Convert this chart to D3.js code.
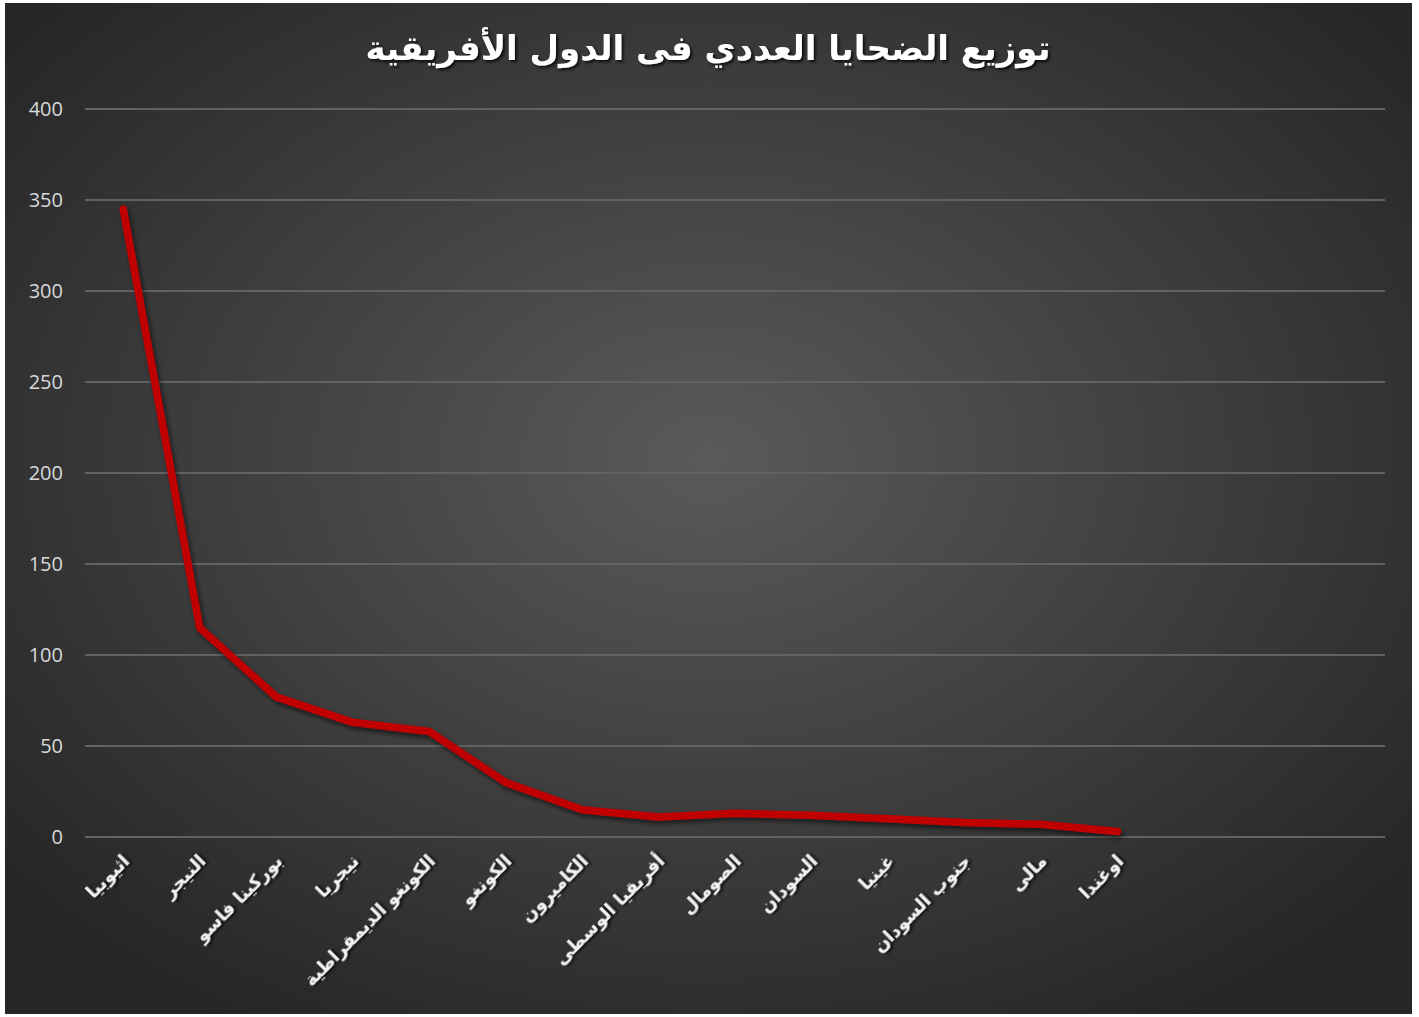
<!DOCTYPE html>
<html><head><meta charset="utf-8">
<script src="https://cdn.jsdelivr.net/npm/d3@7/dist/d3.min.js"></script>
<style>html,body{margin:0;padding:0;background:#fff;}svg{display:block;}</style>
</head><body>
<script>
const title = "توزيع الضحايا العددي فى الدول الأفريقية";
const categories = ["اثيوبيا","النيجر","بوركينا فاسو","نيجريا","الكونغو الديمقراطية","الكونغو","الكاميرون","أفريقيا الوسطى","الصومال","السودان","غينيا","جنوب السودان","مالى","اوغندا","","",""];
const values = [345,115,77,63,58,30,15,11,13,12,10,8,7,3];
const yTicks = [0,50,100,150,200,250,300,350,400];

const W = 1419, H = 1017;
const svg = d3.select("body").append("svg").attr("width", W).attr("height", H);
const defs = svg.append("defs");
const rg = defs.append("radialGradient").attr("id","bg").attr("cx","50%").attr("cy","45%").attr("r","65%");
rg.append("stop").attr("offset","0%").attr("stop-color","#5a5a5a");
rg.append("stop").attr("offset","100%").attr("stop-color","#262626");
const f = defs.append("filter").attr("id","sh").attr("x","-10%").attr("y","-10%").attr("width","120%").attr("height","120%");
f.append("feDropShadow").attr("dx",2).attr("dy",3).attr("stdDeviation",2.5).attr("flood-color","#000").attr("flood-opacity",0.6);
const ft = defs.append("filter").attr("id","tsh").attr("x","-10%").attr("y","-30%").attr("width","120%").attr("height","160%");
ft.append("feDropShadow").attr("dx",2).attr("dy",2).attr("stdDeviation",1.5).attr("flood-color","#000").attr("flood-opacity",0.8);

svg.append("rect").attr("x",5).attr("y",3).attr("width",1407).attr("height",1011).attr("fill","url(#bg)");

const m = {left:85, right:1385, top:109, bottom:837};
const x = d3.scaleBand().domain(categories.map((c,i)=>i)).range([m.left, m.right]);
const y = d3.scaleLinear().domain([0,400]).range([m.bottom, m.top]);

// gridlines
svg.append("g").selectAll("line").data(yTicks).join("line")
  .attr("x1", m.left).attr("x2", m.right)
  .attr("y1", d=>y(d)).attr("y2", d=>y(d))
  .attr("stroke", "#626262").attr("stroke-width", 2);

// y labels
const yAxis = d3.axisLeft(y).tickValues(yTicks).tickSize(0).tickPadding(0);
const ya = svg.append("g").attr("transform", `translate(63,0)`).call(yAxis);
ya.select(".domain").remove();
ya.selectAll("text").attr("fill","#d9d9d9").attr("font-family","'Open Sans', sans-serif").attr("font-size",20).attr("dy","0.32em");

// x labels
const xAxis = d3.axisBottom(x).tickFormat(i=>categories[i]).tickSize(0);
const xa = svg.append("g").attr("transform", `translate(0,${m.bottom})`).call(xAxis);
xa.select(".domain").remove();
xa.selectAll("text")
  .attr("fill","#f2f2f2")
  .attr("font-family","'DejaVu Sans', sans-serif")
  .attr("font-weight","bold")
  .attr("font-size",18)
  .attr("text-anchor","end")
  .attr("direction","ltr")
  .attr("filter","url(#tsh)")
  .attr("transform","translate(3,21) rotate(-45)")
  .attr("dy","0.35em").attr("y",0);

// line
const line = d3.line().x((d,i)=>x(i)+x.bandwidth()/2).y(d=>y(d)).curve(d3.curveLinear);
svg.append("path").datum(values).attr("d", line)
  .attr("fill","none").attr("stroke","#c00000").attr("stroke-width",7.5)
  .attr("stroke-linejoin","round").attr("stroke-linecap","round")
  .attr("filter","url(#sh)");

// title
svg.append("text").attr("x", 708).attr("y", 60).attr("text-anchor","middle")
  .attr("fill","#fff").attr("font-family","'DejaVu Sans', sans-serif").attr("font-weight","bold")
  .attr("font-size",34).attr("filter","url(#tsh)").text(title);
</script>
</body></html>
